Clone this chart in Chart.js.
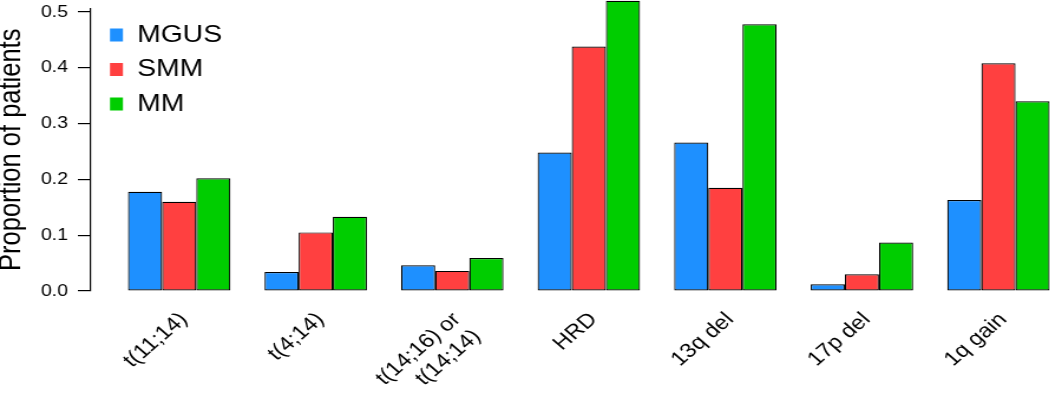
<!DOCTYPE html>
<html>
<head>
<meta charset="utf-8">
<script src="https://cdn.jsdelivr.net/npm/chart.js@4/dist/chart.umd.min.js"></script>
<style>
  html, body { margin: 0; padding: 0; background: #fff; overflow: hidden; width: 1050px; height: 403px; }
  /* the original figure is stretched sideways, so draw narrow and widen */
  #wrap { width: 904px; height: 403px; transform: scaleX(1.18); transform-origin: 0 0; }
  canvas { display: block; }
</style>
</head>
<body>
<div id="wrap"><canvas id="chart" width="904" height="403" style="width:904px;height:403px"></canvas></div>
<script>
// categories and series
const categories = ['t(11;14)', 't(4;14)', ['t(14;16) or', 't(14;14)'], 'HRD', '13q del', '17p del', '1q gain'];
const mgus = [0.178, 0.034, 0.046, 0.248, 0.266, 0.012, 0.163];
const smm  = [0.160, 0.105, 0.036, 0.438, 0.185, 0.030, 0.408];
const mm   = [0.202, 0.133, 0.059, 0.520, 0.478, 0.087, 0.340];
const seriesNames = ['MGUS', 'SMM', 'MM'];
const seriesColors = ['#1E90FF', '#FF4040', '#00CD00'];
const yTicks = [0, 0.1, 0.2, 0.3, 0.4, 0.5];

const FONT = '"Liberation Sans", Arial, Helvetica, sans-serif';

// move the legend into the top-left corner of the plot
const legendNudge = {
    id: 'legendNudge',
    afterLayout(chart) {
        chart.legend.left -= 11.3;
        chart.legend.top += 12.5;
    }
};

const datasets = [mgus, smm, mm].map((data, i) => ({
    label: seriesNames[i],
    data: data,
    backgroundColor: seriesColors[i],
    borderColor: '#000',
    borderWidth: 1.2,
    borderSkipped: false,
    categoryPercentage: 0.75,
    barPercentage: 1,
    clip: false // tallest bar pokes above the top tick
}));

new Chart(document.getElementById('chart'), {
    type: 'bar',
    data: { labels: categories, datasets: datasets },
    options: {
        responsive: false,
        animation: false,
        devicePixelRatio: 1,
        layout: { padding: 0, autoPadding: false },
        scales: {
            x: {
                grid: { display: false, drawTicks: false },
                border: { display: false },
                ticks: {
                    autoSkip: false,
                    minRotation: 45,
                    maxRotation: 45,
                    padding: 17,
                    labelOffset: 4,
                    color: '#000',
                    font: { family: FONT, size: 20 }
                },
                afterFit(scale) { scale.height = 112; }
            },
            // R style axis: line + outward ticks, set off from the bars by the gap scale
            y: {
                position: 'left',
                weight: 1,
                min: 0,
                max: 0.5063,
                grid: { display: true, drawOnChartArea: false, drawTicks: true, tickLength: 10.3, color: '#000', lineWidth: 1.2 },
                border: { display: true, color: '#000', width: 1.2 },
                ticks: {
                    stepSize: 0.1,
                    padding: 8.4,
                    color: '#000',
                    font: { family: FONT, size: 16.5, lineHeight: 0.01 },
                    callback: v => v.toFixed(1)
                },
                afterBuildTicks(scale) {
                    scale.ticks = yTicks.map(v => ({ value: v }));
                },
                afterFit(scale) { scale.width = 76.3; },
                title: {
                    display: true,
                    text: 'Proportion of patients',
                    color: '#000',
                    padding: { top: -2.5, bottom: 0 },
                    font: { family: FONT, size: 25.5, lineHeight: 1 }
                }
            },
            gap: {
                type: 'linear',
                position: 'left',
                weight: 0,
                min: 0,
                max: 1,
                grid: { display: false },
                border: { display: false },
                ticks: { display: false },
                afterFit(scale) { scale.width = 17.7; }
            }
        },
        plugins: {
            tooltip: { enabled: false },
            legend: {
                position: 'chartArea',
                fullSize: false,
                align: 'start',
                labels: {
                    boxWidth: 11,
                    boxHeight: 13,
                    padding: 10.5,
                    color: '#000',
                    font: { family: FONT, size: 24 },
                    generateLabels(chart) {
                        return Chart.defaults.plugins.legend.labels.generateLabels(chart)
                            .map(item => ({ ...item, lineWidth: 0, strokeStyle: item.fillStyle }));
                    }
                }
            }
        }
    },
    plugins: [legendNudge]
});
</script>
</body>
</html>
